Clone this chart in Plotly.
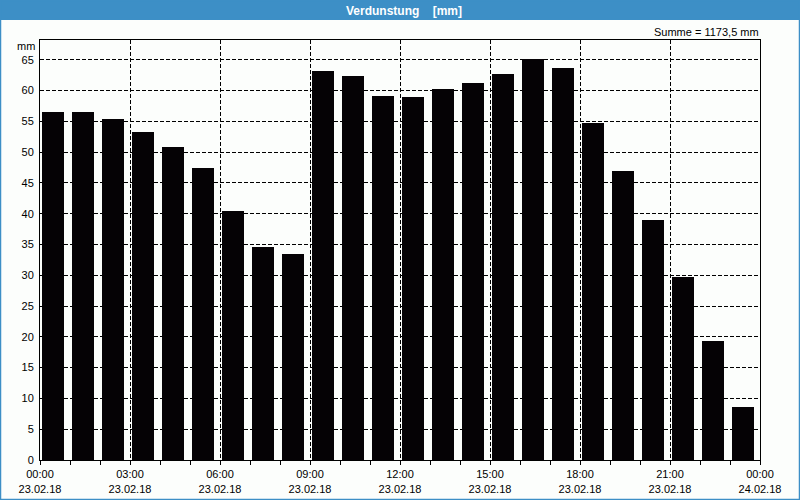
import plotly.graph_objects as go
import pandas as pd

# Data
hours = pd.date_range("2018-02-23 00:00", periods=24, freq="h")
values = [56.5, 56.5, 55.4, 53.3, 50.8, 47.4, 40.4, 34.6, 33.4,
          63.1, 62.3, 59.1, 58.9, 60.2, 61.2, 62.7, 65.1, 63.6,
          54.7, 46.9, 39.0, 29.7, 19.3, 8.6]
title_text = "Verdunstung\u00a0\u00a0\u00a0\u00a0[mm]"
sum_text = "Summe = 1173,5 mm"
unit_text = "mm"

BLUE = "#3d8fc6"
FONT = "Liberation Sans, Arial, sans-serif"

fig = go.Figure()
fig.add_trace(go.Bar(
    x=hours, y=values,
    width=2610000, offset=210000,
    marker=dict(color="#050205", line=dict(width=0)),
    hoverinfo="x+y",
))

L, R, T, B = 40, 40, 40, 40
W, H = 800, 500
pw, ph = W - L - R, H - T - B

def px_x(p):
    return (p - L) / pw

def px_y(p):
    return (H - B - p) / ph

fig.update_layout(
    width=W, height=H,
    autosize=False,
    margin=dict(l=L, r=R, t=T, b=B, pad=0, autoexpand=False),
    paper_bgcolor="#fcfefc",
    plot_bgcolor="#fcfefc",
    showlegend=False,
    bargap=0,
    font=dict(family=FONT, size=11, color="#000000"),
    xaxis=dict(
        type="date",
        range=["2018-02-23 00:00", "2018-02-24 00:00"],
        tick0="2018-02-23 00:00",
        dtick=3 * 3600000,
        tickformat="%H:%M<br>%d.%m.%y",
        ticks="outside", ticklen=4, tickcolor="#000000",
        showgrid=True, gridcolor="#000000", gridwidth=1, griddash="4px,2px",
        showline=True, linecolor="#000000", linewidth=1, mirror=True,
        minor=dict(dtick=3600000, ticks="outside", ticklen=4,
                   tickcolor="#000000", showgrid=False),
        zeroline=False,
        automargin=False,
        fixedrange=True,
    ),
    yaxis=dict(
        range=[0, 68.2],
        dtick=5, tick0=0,
        ticks="",
        ticklabelstandoff=3,
        showgrid=True, gridcolor="#000000", gridwidth=1, griddash="4px,2px",
        showline=True, linecolor="#000000", linewidth=1, mirror=True,
        zeroline=False,
        automargin=False,
        fixedrange=True,
    ),
    shapes=[
        # title bar
        dict(type="rect", xref="paper", yref="paper",
             x0=px_x(0), x1=px_x(W), y0=px_y(20), y1=px_y(0),
             fillcolor=BLUE, line=dict(width=0), layer="above"),
        # window border
        dict(type="rect", xref="paper", yref="paper",
             x0=px_x(0.5), x1=px_x(W - 0.5), y0=px_y(H - 0.5), y1=px_y(0.5),
             line=dict(color=BLUE, width=1.5), fillcolor="rgba(0,0,0,0)",
             layer="above"),
    ],
    annotations=[
        dict(text="<b>" + title_text + "</b>", xref="paper", yref="paper",
             x=px_x(404), y=px_y(10.5), xanchor="center", yanchor="middle",
             showarrow=False, font=dict(family=FONT, size=12, color="#ffffff")),
        dict(text=sum_text, xref="paper", yref="paper",
             x=px_x(761), y=px_y(32), xanchor="right", yanchor="middle",
             showarrow=False, font=dict(family=FONT, size=11, color="#000000")),
        dict(text=unit_text, xref="paper", yref="paper",
             x=px_x(37), y=px_y(46), xanchor="right", yanchor="middle",
             showarrow=False, font=dict(family=FONT, size=11, color="#000000")),
    ],
)

fig.write_html("out.html", config={"responsive": False, "displayModeBar": False})
